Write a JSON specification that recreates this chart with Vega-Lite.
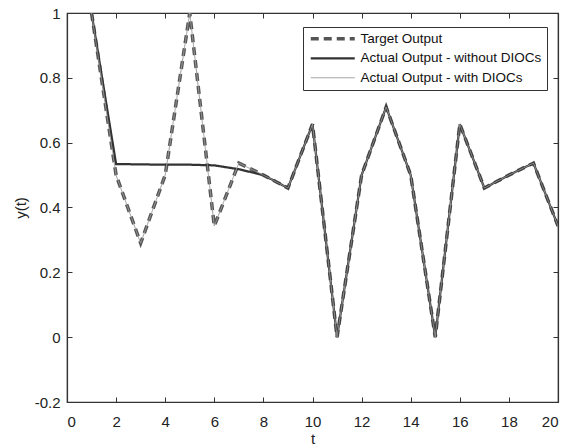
{
  "$schema": "https://vega.github.io/schema/vega-lite/v6.json",
  "autosize": "none",
  "width": 491,
  "height": 389,
  "padding": {"left": 67, "top": 13, "right": 9, "bottom": 44},
  "background": "white",
  "config": {
    "font": "Liberation Sans",
    "view": {"stroke": "#333", "strokeWidth": 1.2},
    "axis": {"grid": false, "domainColor": "#333", "domainWidth": 1.2, "tickColor": "#333", "tickSize": -5, "labelColor": "#222", "labelFontSize": 15, "titleFontSize": 15, "titleFontWeight": "normal", "titleColor": "#222"}
  },
  "data": {"values": [
    {"t": 1, "y": 1, "series": "Target Output"},
    {"t": 2, "y": 0.5, "series": "Target Output"},
    {"t": 3, "y": 0.29, "series": "Target Output"},
    {"t": 4, "y": 0.5, "series": "Target Output"},
    {"t": 5, "y": 1, "series": "Target Output"},
    {"t": 6, "y": 0.343, "series": "Target Output"},
    {"t": 7, "y": 0.537, "series": "Target Output"},
    {"t": 8, "y": 0.5, "series": "Target Output"},
    {"t": 9, "y": 0.46, "series": "Target Output"},
    {"t": 10, "y": 0.657, "series": "Target Output"},
    {"t": 11, "y": 0, "series": "Target Output"},
    {"t": 12, "y": 0.5, "series": "Target Output"},
    {"t": 13, "y": 0.71, "series": "Target Output"},
    {"t": 14, "y": 0.5, "series": "Target Output"},
    {"t": 15, "y": 0, "series": "Target Output"},
    {"t": 16, "y": 0.657, "series": "Target Output"},
    {"t": 17, "y": 0.46, "series": "Target Output"},
    {"t": 18, "y": 0.5, "series": "Target Output"},
    {"t": 19, "y": 0.537, "series": "Target Output"},
    {"t": 20, "y": 0.343, "series": "Target Output"},
    {"t": 1, "y": 1, "series": "Actual Output - without DIOCs"},
    {"t": 2, "y": 0.534, "series": "Actual Output - without DIOCs"},
    {"t": 3, "y": 0.533, "series": "Actual Output - without DIOCs"},
    {"t": 4, "y": 0.532, "series": "Actual Output - without DIOCs"},
    {"t": 5, "y": 0.532, "series": "Actual Output - without DIOCs"},
    {"t": 6, "y": 0.53, "series": "Actual Output - without DIOCs"},
    {"t": 7, "y": 0.518, "series": "Actual Output - without DIOCs"},
    {"t": 8, "y": 0.5, "series": "Actual Output - without DIOCs"},
    {"t": 9, "y": 0.46, "series": "Actual Output - without DIOCs"},
    {"t": 10, "y": 0.657, "series": "Actual Output - without DIOCs"},
    {"t": 11, "y": 0, "series": "Actual Output - without DIOCs"},
    {"t": 12, "y": 0.5, "series": "Actual Output - without DIOCs"},
    {"t": 13, "y": 0.71, "series": "Actual Output - without DIOCs"},
    {"t": 14, "y": 0.5, "series": "Actual Output - without DIOCs"},
    {"t": 15, "y": 0, "series": "Actual Output - without DIOCs"},
    {"t": 16, "y": 0.657, "series": "Actual Output - without DIOCs"},
    {"t": 17, "y": 0.46, "series": "Actual Output - without DIOCs"},
    {"t": 18, "y": 0.5, "series": "Actual Output - without DIOCs"},
    {"t": 19, "y": 0.537, "series": "Actual Output - without DIOCs"},
    {"t": 20, "y": 0.343, "series": "Actual Output - without DIOCs"},
    {"t": 1, "y": 1, "series": "Actual Output - with DIOCs"},
    {"t": 2, "y": 0.5, "series": "Actual Output - with DIOCs"},
    {"t": 3, "y": 0.29, "series": "Actual Output - with DIOCs"},
    {"t": 4, "y": 0.5, "series": "Actual Output - with DIOCs"},
    {"t": 5, "y": 1, "series": "Actual Output - with DIOCs"},
    {"t": 6, "y": 0.343, "series": "Actual Output - with DIOCs"},
    {"t": 7, "y": 0.537, "series": "Actual Output - with DIOCs"},
    {"t": 8, "y": 0.5, "series": "Actual Output - with DIOCs"},
    {"t": 9, "y": 0.46, "series": "Actual Output - with DIOCs"},
    {"t": 10, "y": 0.657, "series": "Actual Output - with DIOCs"},
    {"t": 11, "y": 0, "series": "Actual Output - with DIOCs"},
    {"t": 12, "y": 0.5, "series": "Actual Output - with DIOCs"},
    {"t": 13, "y": 0.71, "series": "Actual Output - with DIOCs"},
    {"t": 14, "y": 0.5, "series": "Actual Output - with DIOCs"},
    {"t": 15, "y": 0, "series": "Actual Output - with DIOCs"},
    {"t": 16, "y": 0.657, "series": "Actual Output - with DIOCs"},
    {"t": 17, "y": 0.46, "series": "Actual Output - with DIOCs"},
    {"t": 18, "y": 0.5, "series": "Actual Output - with DIOCs"},
    {"t": 19, "y": 0.537, "series": "Actual Output - with DIOCs"},
    {"t": 20, "y": 0.343, "series": "Actual Output - with DIOCs"}
  ]},
  "layer": [
    {
      "mark": {"type": "line", "clip": true},
      "encoding": {
        "x": {"field": "t", "type": "quantitative", "scale": {"domain": [0, 20], "nice": false, "zero": false}, "axis": {"values": [0,2,4,6,8,10,12,14,16,18,20], "title": "t", "titlePadding": 2, "labelPadding": 17}},
        "y": {"field": "y", "type": "quantitative", "scale": {"domain": [-0.2, 1], "nice": false, "zero": false}, "axis": {"values": [-0.2,0,0.2,0.4,0.6,0.8,1], "title": "y(t)", "titlePadding": 6, "labelPadding": 12, "labelExpr": "replace(format(datum.value, '~g'), '\u2212', '-')"}},
        "color": {"field": "series", "type": "nominal", "sort": null,
          "scale": {"domain": ["Target Output", "Actual Output - without DIOCs", "Actual Output - with DIOCs"], "range": ["#555555", "#333333", "#9a9a9a"]},
          "legend": {"title": null, "orient": "none", "legendX": 236, "legendY": 14, "symbolType": "M-1,0H10", "symbolSize": 64, "labelFontSize": 13.5, "labelColor": "#111", "labelLimit": 0, "rowPadding": 4.5, "strokeColor": "#333", "fillColor": "white", "padding": 5, "labelOffset": 39, "symbolOffset": 0}},
        "strokeDash": {"field": "series", "type": "nominal", "sort": null,
          "scale": {"domain": ["Target Output", "Actual Output - without DIOCs", "Actual Output - with DIOCs"], "range": [[8, 5], [1, 0], [1, 0]]},
          "legend": {"title": null}},
        "strokeWidth": {"field": "series", "type": "nominal", "sort": null,
          "scale": {"domain": ["Target Output", "Actual Output - without DIOCs", "Actual Output - with DIOCs"], "range": [3.5, 1, 1]},
          "legend": {"title": null}}
      }
    },
    {
      "mark": {"type": "point", "opacity": 0},
      "encoding": {
        "x": {"field": "t", "type": "quantitative", "scale": {"domain": [0, 20], "nice": false, "zero": false}, "axis": {"orient": "top", "values": [0,2,4,6,8,10,12,14,16,18,20], "labels": false, "title": null}},
        "y": {"field": "y", "type": "quantitative", "scale": {"domain": [-0.2, 1], "nice": false, "zero": false}, "axis": {"orient": "right", "values": [-0.2,0,0.2,0.4,0.6,0.8,1], "labels": false, "title": null}}
      }
    }
  ],
  "resolve": {"axis": {"x": "independent", "y": "independent"}}
}
